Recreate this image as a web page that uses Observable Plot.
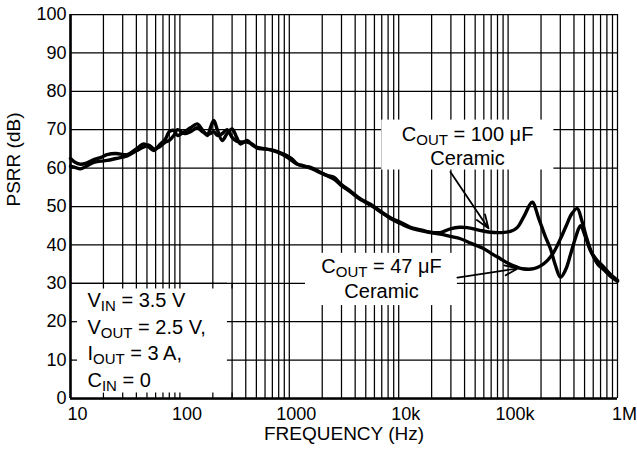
<!DOCTYPE html>
<html>
<head>
<meta charset="utf-8">
<script src="https://cdn.jsdelivr.net/npm/d3@7"></script>
<script src="https://cdn.jsdelivr.net/npm/@observablehq/plot@0.6"></script>
<style>
  html, body { margin: 0; padding: 0; background: #fff; }
</style>
</head>
<body>
<div id="chart"></div>
<script>
// ---- Series: C_OUT = 100 uF ceramic ----
const freq100 = [10, 11, 12.3, 14, 16.3, 19, 21.6, 26, 33, 40, 46.8, 52, 57.8, 65, 73.8, 80, 88, 95,
  110, 125, 144, 160, 178, 190, 204, 220, 244, 270, 300, 330, 358, 412, 460, 509, 600, 721, 830, 957,
  1050, 1180, 1350, 1563, 1850, 2220, 2600, 2940, 3620, 4480, 5520, 6800, 8410, 10500, 12800, 15500,
  19500, 24000, 29700, 36000, 42300, 55000, 69000, 85000, 105000, 121000, 140000, 166000, 190000,
  220000, 244000, 272000, 301000, 335000, 372000, 415000, 459000, 510000, 566000, 650000, 750000,
  850000, 1000000];
const psrr100 = [62.5, 61.5, 61.0, 61.3, 62.2, 62.8, 63.5, 63.8, 63.5, 65.0, 66.3, 65.5, 64.6, 66.0, 67.6, 69.5, 69.8, 68.5,
  69.5, 70.5, 71.5, 70.0, 68.5, 70.5, 72.4, 70.0, 67.2, 69.0, 70.2, 68.0, 66.3, 67.2, 66.0, 65.4, 65.0, 64.6, 64.0, 63.2,
  62.5, 61.1, 60.5, 60.2, 59.2, 58.1, 57.5, 55.9, 54.0, 52.0, 50.6, 48.8, 47.1, 45.8, 44.6, 44.0,
  43.3, 43.2, 44.2, 44.6, 44.5, 43.8, 43.3, 43.2, 43.5, 44.5, 47.5, 51.1, 47.0,
  42.0, 39.0, 34.5, 31.6, 33.5, 37.5, 42.0, 45.0, 42.0, 38.5, 36.0, 34.2,
  32.5, 30.8];

// ---- Series: C_OUT = 47 uF ceramic ----
const freq47 = [10, 11, 12.3, 14, 16.3, 19, 21.6, 26, 33, 40, 46.8, 52, 57.8, 65, 73.8, 80, 88, 95,
  110, 125, 144, 160, 178, 190, 204, 220, 244, 270, 300, 330, 358, 412, 460, 509, 600, 721, 830, 957,
  1050, 1180, 1350, 1563, 1850, 2220, 2600, 2940, 3620, 4480, 5520, 6800, 8410, 10500, 12800, 15500,
  19500, 24000, 29700, 36700, 46000, 60000, 72000, 85000, 100000, 121000, 135000, 172000, 200000,
  228000, 260000, 300000, 340000, 380000, 428000, 470000, 520000, 580000, 660000, 750000, 850000, 1000000];
const psrr47 = [60.5, 60.2, 59.8, 60.5, 61.5, 61.8, 62.0, 62.5, 63.2, 64.5, 65.5, 66.0, 65.0, 65.5, 66.8, 67.2, 68.5, 70.0,
  69.0, 69.5, 70.5, 69.5, 68.8, 69.0, 69.5, 68.5, 69.0, 70.0, 68.0, 67.0, 66.8, 66.8, 66.2, 65.2, 65.0, 64.5, 63.8, 62.8,
  62.0, 61.0, 60.6, 60.0, 59.0, 58.0, 57.0, 55.6, 53.8, 51.8, 50.4, 48.6, 46.9, 45.5, 44.4, 43.8,
  43.2, 42.8, 42.2, 41.6, 40.4, 39.0, 37.6, 36.4, 35.2, 34.2, 33.8, 33.8, 34.6,
  35.9, 38.0, 41.5, 45.0, 48.0, 49.5, 46.5, 42.0, 38.0, 35.0, 33.5, 32.0, 30.5];

// ---- Axes ----
const xTickValues = [10, 100, 1000, 10000, 100000, 1000000];
const xTickLabels = ["10", "100", "1000", "10k", "100k", "1M"];
const yTickValues = [0, 10, 20, 30, 40, 50, 60, 70, 80, 90, 100];
const xTitle = "FREQUENCY (Hz)";
const yTitle = "PSRR (dB)";

// ---- Annotations (text, data-space anchor) ----
const noteText = ["C_{OUT} = 100 μF", "Ceramic", "C_{OUT} = 47 μF", "Ceramic",
  "V_{IN} = 3.5 V", "V_{OUT} = 2.5 V,", "I_{OUT} = 3 A,", "C_{IN} = 0"];
const noteX = [42600, 42600, 6970, 6970, 14.3, 14.3, 14.3, 14.3];
const noteY = [68.75, 62.5, 34.4, 27.9, 25.5, 18.5, 11.7, 4.7];
const noteAnchor = ["middle", "middle", "middle", "middle", "start", "start", "start", "start"];

// white label boxes [x1, x2, y1, y2]
const boxX1 = [7000, 1406, 10];
const boxX2 = [262000, 34400, 272];
const boxY1 = [59.5, 24.2, 0];
const boxY2 = [72.5, 37.8, 29.8];

// arrows
const arrowX1 = [29700, 34400];
const arrowY1 = [59.0, 31.5];
const arrowX2 = [66200, 124000];
const arrowY2 = [44.3, 33.9];

// ---- derived tables ----
const s100 = freq100.map((f, i) => ({f, v: psrr100[i]}));
const s47 = freq47.map((f, i) => ({f, v: psrr47[i]}));
const gridX = d3.range(1, 6).flatMap(e => d3.range(1, 10).map(m => m * 10 ** e)).concat([1e6]);
const stubX = gridX.filter(x => x > 10 && x <= 300);
const notes = noteText.map((t, i) => ({t, x: noteX[i], y: noteY[i], a: noteAnchor[i]}));
const notesMid = notes.filter(d => d.a === "middle");
const notesStart = notes.filter(d => d.a === "start");
const boxes = boxX1.map((x1, i) => ({x1, x2: boxX2[i], y1: boxY1[i], y2: boxY2[i]}));
const arrows = arrowX1.map((x1, i) => ({x1, y1: arrowY1[i], x2: arrowX2[i], y2: arrowY2[i]}));

const gridStroke = "#000";
const gridWidth = 1.25;
const chart = Plot.plot({
  width: 637,
  height: 457,
  marginLeft: 70,
  marginRight: 20,
  marginTop: 14,
  marginBottom: 59,
  style: {fontFamily: "'Liberation Sans', Arial, Helvetica, sans-serif", fontSize: "18px", color: "#000", background: "#fff"},
  x: {type: "log", domain: [10, 1e6]},
  y: {domain: [0, 100]},
  marks: [
    Plot.ruleX(gridX, {stroke: gridStroke, strokeWidth: gridWidth}),
    Plot.ruleY(yTickValues, {stroke: gridStroke, strokeWidth: gridWidth}),
    Plot.rect(boxes, {x1: "x1", x2: "x2", y1: "y1", y2: "y2", fill: "white"}),
    // short tick stubs left visible inside the condition box
    Plot.ruleX(stubX, {y1: 0, y2: 1.4, stroke: gridStroke, strokeWidth: gridWidth}),
    Plot.ruleX(stubX, {y1: 30, y2: 28.5, stroke: gridStroke, strokeWidth: gridWidth}),
    Plot.ruleY([10, 20], {x1: 10, x2: 11.6, stroke: gridStroke, strokeWidth: gridWidth}),
    Plot.ruleY([30], {x1: 10, x2: 272, stroke: gridStroke, strokeWidth: gridWidth}),
    // frame
    Plot.ruleX([10], {stroke: "#000", strokeWidth: 2.6}),
    Plot.ruleY([0], {stroke: "#000", strokeWidth: 2.6}),
    // curves
    Plot.line(s100, {x: "f", y: "v", stroke: "#000", strokeWidth: 3.4, curve: "catmull-rom", strokeLinejoin: "round"}),
    Plot.line(s47, {x: "f", y: "v", stroke: "#000", strokeWidth: 3.4, curve: "catmull-rom", strokeLinejoin: "round"}),
    Plot.arrow(arrows, {x1: "x1", y1: "y1", x2: "x2", y2: "y2", stroke: "#000", strokeWidth: 1.8, headLength: 12, headAngle: 40}),
    // axes
    Plot.axisX({ticks: xTickValues, tickFormat: d => xTickLabels[xTickValues.indexOf(d)], tickSize: 0, tickPadding: 9, dx: 7, label: null, fontSize: 18}),
    Plot.axisY({ticks: yTickValues, tickSize: 0, tickPadding: 4, label: null, fontSize: 18}),
    Plot.text([xTitle], {frameAnchor: "bottom", dy: 41, text: d => d, fontSize: 19, fill: "#000"}),
    Plot.text([yTitle], {frameAnchor: "left", dx: -57, rotate: -90, text: d => d, fontSize: 19, fill: "#000"}),
    // annotations with subscripts
    Plot.text(notesMid, {x: "x", y: "y", text: "t", textAnchor: "middle", fontSize: 20, fill: "#000"}),
    Plot.text(notesStart, {x: "x", y: "y", text: "t", textAnchor: "start", fontSize: 20, fill: "#000"})
  ]
});

// turn "_{...}" into subscript tspans
d3.select(chart).selectAll("text").each(function () {
  const s = this.textContent;
  if (!s || s.indexOf("_{") < 0) return;
  const t = d3.select(this);
  t.text(null);
  const parts = s.split(/(_\{[^}]*\})/).filter(p => p.length);
  let down = false;
  for (const p of parts) {
    if (p.startsWith("_{")) {
      t.append("tspan").attr("font-size", "15px").attr("dy", down ? null : "4.5").text(p.slice(2, -1));
      down = true;
    } else {
      const ts = t.append("tspan").text(p);
      if (down) { ts.attr("dy", "-4.5"); down = false; }
    }
  }
});
document.getElementById("chart").appendChild(chart);
</script>
</body>
</html>
